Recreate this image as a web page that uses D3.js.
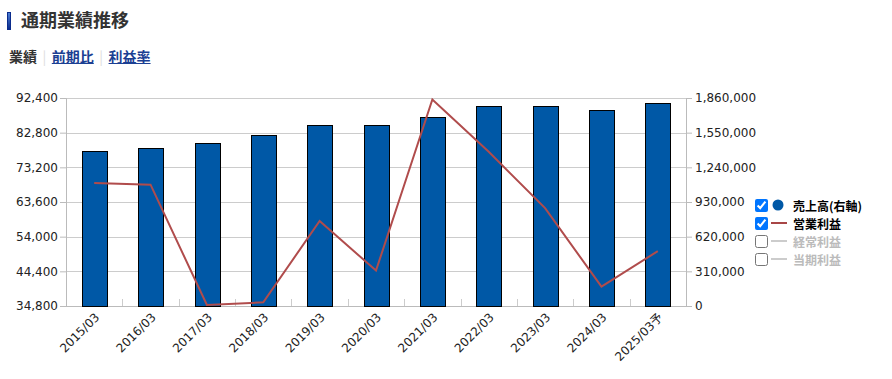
<!DOCTYPE html>
<html>
<head>
<meta charset="utf-8">
<title>通期業績推移</title>
<script src="https://d3js.org/d3.v7.min.js"></script>
<style>
  body { margin: 0; background: #fff; font-family: "DejaVu Sans", "Noto Sans CJK JP", sans-serif; }
  #wrap { position: relative; width: 892px; height: 379px; }
  .title { position: absolute; left: 7px; top: 6px; font: bold 18px "Noto Sans CJK JP", sans-serif; color: #333; }
  .title .mark { display: inline-block; width: 4px; height: 18px; vertical-align: -3px; margin-right: 10px;
                 background: linear-gradient(#4d7fd6, #0b2c8c); border: 1px solid #0b2c8c; box-sizing: border-box; }
  .tabs { position: absolute; left: 9px; top: 46px; font: bold 14px "Noto Sans CJK JP", sans-serif; color: #333; }
  .tabs a { color: #1b3f93; text-decoration: underline; }
  .tabs .sep { color: #ddd; font-weight: normal; margin: 0 5.5px; }
  #legend { position: absolute; left: 755px; top: 196px; font: bold 12px "Noto Sans CJK JP", sans-serif; }
  #legend .row { height: 18px; display: flex; align-items: center; }
  #legend input { margin: 0 3px 0 0; width: 13px; height: 13px; }
  #legend svg { margin-right: 6px; }
  #legend .off { color: #bbb; }
</style>
</head>
<body>
<div id="wrap">
  <div class="title"><span class="mark"></span>通期業績推移</div>
  <div class="tabs">業績<span class="sep">|</span><a>前期比</a><span class="sep">|</span><a>利益率</a></div>
  <div id="legend"></div>
</div>
<script>
// periods
var years = ["2015/03", "2016/03", "2017/03", "2018/03", "2019/03", "2020/03",
             "2021/03", "2022/03", "2023/03", "2024/03", "2025/03予"];
// 売上高 (right axis)
var sales = [1383000, 1410000, 1457000, 1526000, 1616000, 1616000,
             1687000, 1788000, 1788000, 1750000, 1812000];
// 営業利益 (left axis)
var opProfit = [68860, 68400, 35080, 35820, 58340, 44600,
                92000, 77500, 61900, 40150, 50000];
var leftTicks = [34800, 44400, 54000, 63600, 73200, 82800, 92400];
var rightTicks = [0, 310000, 620000, 930000, 1240000, 1550000, 1860000];

var legendItems = [
  { name: "売上高(右軸)", on: true, type: "dot", color: "#0058a6" },
  { name: "営業利益", on: true, type: "line", color: "#a84646" },
  { name: "経常利益", on: false, type: "line", color: "#ccc" },
  { name: "当期利益", on: false, type: "line", color: "#ccc" }
];

var plotLeft = 66, plotRight = 686, plotTop = 98, plotBottom = 306;

var svg = d3.select("#wrap").append("svg")
    .attr("width", 892).attr("height", 379)
    .style("position", "absolute").style("left", 0).style("top", 0);

var x = d3.scaleBand().domain(years).range([plotLeft, plotRight]).paddingInner(0.56).paddingOuter(0.28);
var yL = d3.scaleLinear().domain([34800, 92400]).range([plotBottom, plotTop]);
var yR = d3.scaleLinear().domain([0, 1860000]).range([plotBottom, plotTop]);

// grid
svg.append("g").selectAll("line").data(leftTicks).enter().append("line")
    .attr("x1", plotLeft).attr("x2", plotRight)
    .attr("y1", function(d) { return Math.round(yL(d)) + 0.5; }).attr("y2", function(d) { return Math.round(yL(d)) + 0.5; })
    .attr("stroke", "#ccc");

// axes
var gl = svg.append("g").attr("transform", "translate(" + plotLeft + ",0)")
    .call(d3.axisLeft(yL).tickValues(leftTicks).tickSize(6).tickPadding(2).tickFormat(d3.format(",")));
var gr = svg.append("g").attr("transform", "translate(" + plotRight + ",0)")
    .call(d3.axisRight(yR).tickValues(rightTicks).tickSize(6).tickPadding(3).tickFormat(d3.format(",")));
[gl, gr].forEach(function(g) {
  g.select(".domain").attr("stroke", "#bbb");
  g.selectAll(".tick line").attr("stroke", "#bbb");
  g.selectAll("text").attr("fill", "#222").style("font-family", "DejaVu Sans").style("font-size", "12px");
});

// band boundary ticks
var step = x.step();
svg.append("g").selectAll("line").data(years.slice(1)).enter().append("line")
    .attr("x1", function(d) { return Math.round(x(d) + x.bandwidth() / 2 - step / 2) + 0.5; })
    .attr("x2", function(d) { return Math.round(x(d) + x.bandwidth() / 2 - step / 2) + 0.5; })
    .attr("y1", plotBottom - 7).attr("y2", plotBottom)
    .attr("stroke", "#ccc");
svg.append("line").attr("x1", plotLeft).attr("x2", plotRight).attr("y1", plotBottom + 0.5).attr("y2", plotBottom + 0.5).attr("stroke", "#bbb");

// x labels
svg.append("g").selectAll("text").data(years).enter().append("text")
    .attr("transform", function(d) { return "translate(" + (x(d) + x.bandwidth() / 2 + 6) + "," + (plotBottom + 12) + ") rotate(-45)"; })
    .attr("text-anchor", "end")
    .style("font-family", "DejaVu Sans, Noto Sans CJK JP").style("font-size", "12px").attr("fill", "#222")
    .text(function(d) { return d; });

// bars
svg.append("g").selectAll("rect").data(sales).enter().append("rect")
    .attr("x", function(d, i) { return Math.round(x(years[i])) + 0.5; })
    .attr("y", function(d) { return Math.round(yR(d)) + 0.5; })
    .attr("width", Math.round(x.bandwidth()))
    .attr("height", function(d) { return plotBottom - Math.round(yR(d)); })
    .attr("fill", "#0058a6").attr("stroke", "#000").attr("stroke-width", 1);

// line
var line = d3.line()
    .x(function(d, i) { return x(years[i]) + x.bandwidth() / 2; })
    .y(function(d) { return yL(d); });
svg.append("path").datum(opProfit).attr("d", line)
    .attr("fill", "none").attr("stroke", "#b04c4c").attr("stroke-width", 2);

// legend
var rows = d3.select("#legend").selectAll(".row").data(legendItems).enter()
    .append("div").attr("class", "row");
rows.append("input").attr("type", "checkbox").property("checked", function(d) { return d.on; });
rows.append("svg").attr("width", 16).attr("height", 12).each(function(d) {
  var s = d3.select(this);
  if (d.type === "dot") s.append("circle").attr("cx", 7).attr("cy", 6).attr("r", 5.5).attr("fill", d.color);
  else s.append("line").attr("x1", 0).attr("x2", 16).attr("y1", 6).attr("y2", 6).attr("stroke", d.color).attr("stroke-width", 2);
});
rows.append("span").attr("class", function(d) { return d.on ? "" : "off"; }).text(function(d) { return d.name; });
</script>
</body>
</html>
